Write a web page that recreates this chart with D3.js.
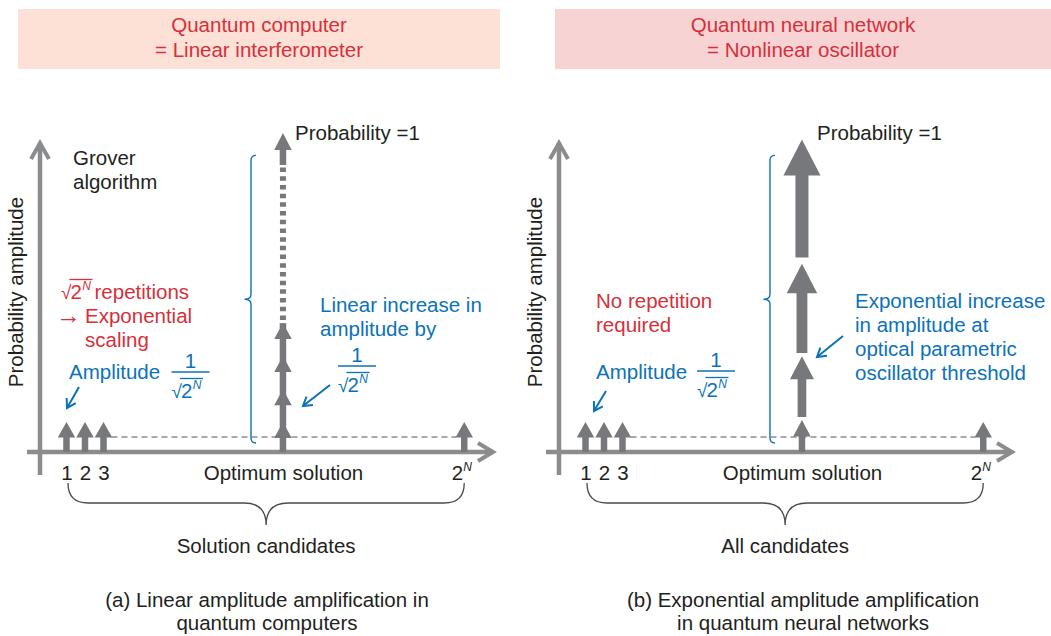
<!DOCTYPE html>
<html>
<head>
<meta charset="utf-8">
<script src="https://cdn.jsdelivr.net/npm/d3@7"></script>
<style>
body { margin: 0; background: #fff; }
text { font-family: "Liberation Sans", Arial, Helvetica, sans-serif; }
</style>
</head>
<body>
<div id="chart"></div>
<script>
// ---- data ----
var panelTitles = [["Quantum computer", "= Linear interferometer"],
                   ["Quantum neural network", "= Nonlinear oscillator"]];
var candidateLabels = ["1", "2", "3", "Optimum solution", "2N"];
var candidateSlots = [1, 2, 3, 12.7, 22.5];      // position along the candidate axis
var baseAmplitude = 0.094;                        // 1/sqrt(2^N), as drawn
var groverSteps = [0.094, 0.197, 0.301, 0.404];   // amplitude after each repetition
var groverDotted = [0.414, 0.9];                  // remaining repetitions (dotted)
var groverTop = [0.9, 1.0];                       // last step, probability = 1
var oscillatorSegments = [[0, 0.1], [0.11, 0.30], [0.31, 0.59], [0.61, 0.98]];
var bracketRange = [0.028, 0.93];
var rangeLabels = ["Solution candidates", "All candidates"];
var captions = [["(a) Linear amplitude amplification in", "quantum computers"],
                ["(b) Exponential amplitude amplification", "in quantum neural networks"]];

var W = 1051, H = 636, FS = 20.5;
var RED = "#d6303a", BLUE = "#0b72b9", INK = "#231f20", GREY = "#77787b", AXIS = "#8b8c8e";

var svg = d3.select("#chart").append("svg")
    .attr("width", W)
    .attr("height", H);

// header boxes
var headers = [{x: 18, w: 482, fill: "#fde0d6"}, {x: 555, w: 496, fill: "#f7d3d4"}];
headers.forEach(function(h, i) {
    svg.append("rect")
        .attr("x", h.x).attr("y", 9)
        .attr("width", h.w).attr("height", 60)
        .attr("fill", h.fill);
    panelTitles[i].forEach(function(t, j) {
        svg.append("text")
            .attr("x", h.x + h.w / 2)
            .attr("y", 32 + j * 25)
            .attr("text-anchor", "middle")
            .attr("font-size", FS)
            .attr("fill", RED)
            .text(t);
    });
});

var x = d3.scaleLinear().domain([0, 24]).range([8, 452]);
var y = d3.scaleLinear().domain([0, 1]).range([452, 133]);

function blockArrow(g, xc, yBottom, yTip, sw, hw, hl) {
    var base = yTip + hl;
    var p = d3.path();
    p.moveTo(xc - sw / 2, yBottom);
    p.lineTo(xc - sw / 2, base);
    p.lineTo(xc - hw / 2, base);
    p.lineTo(xc, yTip);
    p.lineTo(xc + hw / 2, base);
    p.lineTo(xc + sw / 2, base);
    p.lineTo(xc + sw / 2, yBottom);
    p.closePath();
    g.append("path").attr("d", p.toString()).attr("fill", GREY);
}

function blueArrow(x1, y1, x2, y2) {
    var a = Math.atan2(y2 - y1, x2 - x1), L = 10, s = 0.55;
    svg.append("line")
        .attr("x1", x1).attr("y1", y1).attr("x2", x2).attr("y2", y2)
        .attr("stroke", BLUE).attr("stroke-width", 2);
    svg.append("path")
        .attr("d", "M" + (x2 - L * Math.cos(a - s)) + "," + (y2 - L * Math.sin(a - s)) +
                   "L" + x2 + "," + y2 +
                   "L" + (x2 - L * Math.cos(a + s)) + "," + (y2 - L * Math.sin(a + s)))
        .attr("fill", "none").attr("stroke", BLUE).attr("stroke-width", 2);
}

function label(x0, y0, t, color, anchor) {
    return svg.append("text")
        .attr("x", x0).attr("y", y0)
        .attr("font-size", FS)
        .attr("fill", color)
        .attr("text-anchor", anchor || "start")
        .text(t);
}

// square root of 2^N, returns its width
function sqrt2N(x0, base, color) {
    var g = svg.append("g").attr("fill", color);
    var rad = g.append("text").attr("x", x0).attr("y", base)
        .attr("font-family", '"DejaVu Sans", sans-serif')
        .attr("font-size", 19).text("\u221A");
    var rw = rad.node().getComputedTextLength() - 1;
    var two = g.append("text").attr("x", x0 + rw).attr("y", base).attr("font-size", FS).text("2");
    var tw = two.node().getComputedTextLength();
    var n = g.append("text").attr("x", x0 + rw + tw + 0.5).attr("y", base - 9)
        .attr("font-size", 12).attr("font-style", "italic").text("N");
    var nw = n.node().getComputedTextLength();
    g.append("line")
        .attr("x1", x0 + rw - 1).attr("x2", x0 + rw + tw + nw + 2)
        .attr("y1", base - 19.5).attr("y2", base - 19.5)
        .attr("stroke", color).attr("stroke-width", 1.3);
    return rw + tw + nw + 2;
}

function fraction(cx, barY, color) {
    label(cx, barY - 4, "1", color, "middle");
    svg.append("line")
        .attr("x1", cx - 19).attr("x2", cx + 19)
        .attr("y1", barY).attr("y2", barY)
        .attr("stroke", color).attr("stroke-width", 1.3);
    sqrt2N(cx - 19, barY + 26, color);
}

function vBrace(g, bx, y1, y2, d) {
    var ym = (y1 + y2) / 2, r = 5;
    var p = "M" + (bx + r) + "," + y1 +
        "Q" + bx + "," + y1 + " " + bx + "," + (y1 + r) +
        "L" + bx + "," + (ym - r) +
        "Q" + bx + "," + ym + " " + (bx - d) + "," + ym +
        "Q" + bx + "," + ym + " " + bx + "," + (ym + r) +
        "L" + bx + "," + (y2 - r) +
        "Q" + bx + "," + y2 + " " + (bx + r) + "," + y2;
    g.append("path").attr("d", p).attr("fill", "none")
        .attr("stroke", BLUE).attr("stroke-width", 1.4);
}

function hBrace(g, x1, x2, y0, yh, yt) {
    var xm = (x1 + x2) / 2, r = yh - y0;
    var p = "M" + x1 + "," + y0 +
        "Q" + x1 + "," + yh + " " + (x1 + r) + "," + yh +
        "L" + (xm - 22) + "," + yh +
        "Q" + xm + "," + yh + " " + xm + "," + yt +
        "Q" + xm + "," + yh + " " + (xm + 22) + "," + yh +
        "L" + (x2 - r) + "," + yh +
        "Q" + x2 + "," + yh + " " + x2 + "," + y0;
    g.append("path").attr("d", p).attr("fill", "none")
        .attr("stroke", "#4a4a4c").attr("stroke-width", 1.3);
}

var panelX = [40, 559];
var captionX = [267, 803];

panelX.forEach(function(ox, i) {
    var g = svg.append("g").attr("transform", "translate(" + ox + ",0)");

    // axes
    g.append("path").attr("d", "M-13," + y(0) + "H453")
        .attr("stroke", AXIS).attr("stroke-width", 4.5).attr("fill", "none");
    g.append("path").attr("d", "M438," + (y(0) - 9) + "L453," + y(0) + "L438," + (y(0) + 9))
        .attr("stroke", AXIS).attr("stroke-width", 4).attr("fill", "none");
    g.append("path").attr("d", "M0," + (y(0) + 23) + "V143")
        .attr("stroke", AXIS).attr("stroke-width", 4.5).attr("fill", "none");
    g.append("path").attr("d", "M-9,159L0,143L9,159")
        .attr("stroke", AXIS).attr("stroke-width", 4).attr("fill", "none");

    var xAxis = g.append("g")
        .attr("transform", "translate(0,480)")
        .call(d3.axisBottom(x).tickValues(candidateSlots)
            .tickFormat(function(d, k) { return candidateLabels[k]; })
            .tickSize(0));
    xAxis.select(".domain").remove();
    xAxis.selectAll("text")
        .attr("y", 0).attr("dy", null)
        .attr("font-size", FS)
        .attr("font-family", '"Liberation Sans", Arial, sans-serif')
        .attr("fill", INK)
        .each(function(d, k) {
            if (k === 4) {
                var t = d3.select(this).text("2").attr("dx", -3);
                t.append("tspan").attr("dy", -9).attr("font-size", 12)
                    .attr("font-style", "italic").text("N");
            }
        });

    // dashed base level
    g.append("line")
        .attr("x1", x(3) + 8).attr("x2", x(22.5) - 8)
        .attr("y1", y(baseAmplitude) + 15).attr("y2", y(baseAmplitude) + 15)
        .attr("stroke", "#8e8f91").attr("stroke-width", 1.3)
        .attr("stroke-dasharray", "6,4");

    // candidates with equal amplitude
    candidateSlots.forEach(function(s, k) {
        if (k === 3) return;
        blockArrow(g, x(s), y(0), y(baseAmplitude), 6.5, 17.5, 15.5);
    });

    var xo = x(candidateSlots[3]);
    if (i === 0) {
        g.append("rect")
            .attr("x", xo - 3.25).attr("width", 6.5)
            .attr("y", y(groverSteps[3])).attr("height", y(0) - y(groverSteps[3]))
            .attr("fill", GREY);
        groverSteps.forEach(function(a) {
            blockArrow(g, xo, y(a) + 16, y(a), 6.5, 17.5, 16);
        });
        g.append("line")
            .attr("x1", xo).attr("x2", xo)
            .attr("y1", y(groverDotted[0])).attr("y2", y(groverDotted[1]))
            .attr("stroke", GREY).attr("stroke-width", 6)
            .attr("stroke-dasharray", "4.5,4.2");
        blockArrow(g, xo, y(groverTop[0]), y(groverTop[1]), 6.5, 17.5, 17);
    } else {
        var hw = d3.scaleLinear().domain([0, 3]).range([17.5, 37]);
        var sw = d3.scaleLinear().domain([0, 3]).range([6.5, 13]);
        oscillatorSegments.forEach(function(seg, k) {
            blockArrow(g, xo, y(seg[0]), y(seg[1]), sw(k), hw(k), hw(k) - 1);
        });
    }

    vBrace(g, 211, y(bracketRange[1]), y(bracketRange[0]), 6.5);
    hBrace(g, x(1) + 1.5, x(22.5), 483, 503, 525);

    g.append("text")
        .attr("x", (x(1) + 1.5 + x(22.5)) / 2).attr("y", 553)
        .attr("text-anchor", "middle").attr("font-size", FS).attr("fill", INK)
        .text(rangeLabels[i]);

    captions[i].forEach(function(t, j) {
        svg.append("text")
            .attr("x", captionX[i]).attr("y", 607 + j * 23)
            .attr("text-anchor", "middle").attr("font-size", FS).attr("fill", INK)
            .text(t);
    });

    svg.append("text")
        .attr("transform", "translate(" + (ox - 17) + ",292) rotate(-90)")
        .attr("text-anchor", "middle").attr("font-size", FS).attr("fill", INK)
        .text("Probability amplitude");

    label(ox + (i === 0 ? 255 : 258), 140, "Probability =1", INK);
});

// left panel notes
label(73, 165, "Grover", INK);
label(73, 189, "algorithm", INK);
var sw0 = sqrt2N(61, 299, RED);
label(61 + sw0 + 2, 299, "repetitions", RED);
svg.append("text").attr("x", 56).attr("y", 324)
    .attr("font-family", '"DejaVu Sans", sans-serif')
    .attr("font-size", 25).attr("fill", RED).text("\u2192");
label(85, 323, "Exponential", RED);
label(85, 347, "scaling", RED);
label(69, 379, "Amplitude", BLUE);
fraction(190.5, 372, BLUE);
blueArrow(79, 387, 67, 408);
label(320, 312, "Linear increase in", BLUE);
label(320, 336, "amplitude by", BLUE);
fraction(357, 366, BLUE);
blueArrow(330, 385, 303, 406);

// right panel notes
label(596, 308, "No repetition", RED);
label(596, 332, "required", RED);
label(596, 379, "Amplitude", BLUE);
fraction(716, 371, BLUE);
blueArrow(606, 391, 594, 411);
["Exponential increase", "in amplitude at", "optical parametric", "oscillator threshold"]
    .forEach(function(t, j) { label(855, 308 + j * 24, t, BLUE); });
blueArrow(843, 336, 817, 357);
</script>
</body>
</html>
